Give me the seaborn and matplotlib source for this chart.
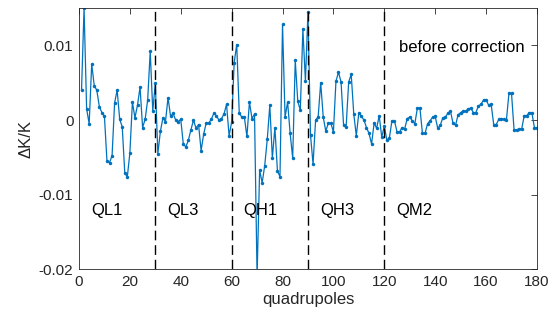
import numpy as np
import pandas as pd
import matplotlib
matplotlib.use("Agg")
import matplotlib.pyplot as plt
import seaborn as sns

# ---- data ----
quad_index = list(range(1, 181))
dk_over_k = [
    0.0040, 0.0150, 0.0015, -0.0005, 0.0075, 0.0046, 0.0040, 0.0018, 0.0010, 0.0005,
    -0.0055, -0.0057, -0.0048, 0.0023, 0.0040, 0.0001, -0.0009, -0.0071, -0.0076, -0.0044,
    0.0024, 0.0003, 0.0020, 0.0044, -0.0010, 0.0001, 0.0027, 0.0092, 0.0012, 0.0049,
    -0.0045, -0.0015, 0.0003, -0.0002, 0.0030, 0.0005, 0.0009, 0.0000, -0.0002, 0.0001,
    -0.0032, -0.0036, -0.0027, -0.0013, 0.0000, -0.0011, -0.0006, -0.0041, -0.0019, -0.0004,
    -0.0004, 0.0001, 0.0009, 0.0006, 0.0000, 0.0002, 0.0008, 0.0021, -0.0021, -0.0003,
    0.0077, 0.0101, 0.0009, 0.0004, 0.0004, -0.0022, 0.0024, 0.0002, 0.0008, -0.0210,
    -0.0067, -0.0084, -0.0061, -0.0026, 0.0020, -0.0051, -0.0010, -0.0068, -0.0076, 0.0128,
    0.0004, 0.0024, -0.0018, -0.0051, 0.0080, 0.0025, 0.0013, 0.0122, 0.0052, 0.0145,
    -0.0020, -0.0059, 0.0000, 0.0004, 0.0050, 0.0004, -0.0015, -0.0004, -0.0004, -0.0016,
    0.0052, 0.0064, 0.0051, -0.0007, -0.0009, 0.0051, 0.0061, 0.0008, -0.0021, 0.0010,
    0.0005, 0.0000, -0.0010, -0.0018, -0.0032, -0.0004, -0.0011, 0.0006, -0.0023, -0.0008,
    -0.0027, -0.0024, -0.0001, -0.0001, -0.0016, -0.0016, -0.0010, -0.0012, 0.0002, 0.0004,
    -0.0001, -0.0005, 0.0016, 0.0016, -0.0018, -0.0018, -0.0005, -0.0001, 0.0004, 0.0005,
    -0.0011, -0.0007, 0.0003, 0.0004, 0.0009, 0.0012, -0.0004, -0.0007, 0.0007, 0.0010,
    0.0012, 0.0012, 0.0015, 0.0016, 0.0010, 0.0010, 0.0019, 0.0021, 0.0027, 0.0027,
    0.0020, 0.0021, -0.0006, -0.0006, 0.0001, 0.0002, 0.0001, 0.0000, 0.0036, 0.0036,
    -0.0013, -0.0013, -0.0012, -0.0012, 0.0006, 0.0006, 0.0010, 0.0010, -0.0010, -0.0010,
]
boundaries = [30, 60, 90, 120]
family_labels = ["QL1", "QL3", "QH1", "QH3", "QM2"]
family_label_x = [5.0, 34.7, 64.6, 94.7, 124.6]
family_label_y = -0.0121
x_ticks = [0, 20, 40, 60, 80, 100, 120, 140, 160, 180]
y_ticks = [-0.02, -0.01, 0, 0.01]
y_tick_labels = ["-0.02", "-0.01", "0", "0.01"]

df = pd.DataFrame({"quadrupoles": quad_index, "dK": dk_over_k})

sns.set_style("white")
plt.rcParams["font.family"] = ["Liberation Sans", "DejaVu Sans"]

fig = plt.figure(figsize=(5.57, 3.20), dpi=100)
ax = fig.add_axes([0.1418, 0.158, 0.8222, 0.817])

sns.lineplot(data=df, x="quadrupoles", y="dK", ax=ax, color="#0072BD",
             linewidth=0.9, marker=".", markersize=5, markeredgewidth=0,
             markerfacecolor="#0072BD")

for b in boundaries:
    ax.axvline(b, color="black", linewidth=1.0, linestyle=(0, (7, 3.5)))

for lab, lx in zip(family_labels, family_label_x):
    ax.text(lx, family_label_y, lab, fontsize=12, ha="left", va="center", color="black")
ax.text(125.9, 0.00977, "before correction", fontsize=12, ha="left", va="center", color="black")

ax.set_xlim(0, 180)
ax.set_ylim(-0.02, 0.015)
ax.set_xticks(x_ticks)
ax.set_yticks(y_ticks)
ax.set_yticklabels(y_tick_labels)
ax.set_xlabel("quadrupoles", fontsize=12, color="#262626", labelpad=2)
ax.set_ylabel("ΔK/K", fontsize=12, color="#262626", labelpad=4)

for s in ax.spines.values():
    s.set_visible(True)
    s.set_color("#262626")
    s.set_linewidth(0.6)
ax.tick_params(axis="both", direction="in", length=4, width=0.6, colors="#262626",
               labelsize=11, top=True, right=True, pad=4)
ax.tick_params(axis="both", labelcolor="#262626")

fig.savefig("out.png", dpi=100)
